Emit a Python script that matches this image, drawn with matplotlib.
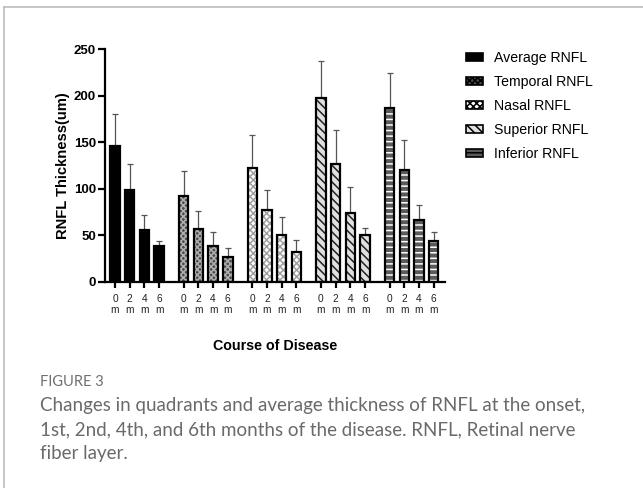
import matplotlib
matplotlib.use("Agg")
import matplotlib.pyplot as plt
from matplotlib.patches import Patch
from matplotlib.lines import Line2D
import numpy as np

plt.rcParams['font.family'] = ['Liberation Sans', 'DejaVu Sans']
plt.rcParams['hatch.linewidth'] = 1.1

# data (mean and upper SD per month)
months = ['0\nm', '2\nm', '4\nm', '6\nm']
groups = ['Average RNFL', 'Temporal RNFL', 'Nasal RNFL', 'Superior RNFL', 'Inferior RNFL']

average_mean = [146, 99, 56, 38]
average_sd = [34, 27, 16, 6]
temporal_mean = [92, 57, 38, 26]
temporal_sd = [27, 19, 15, 10]
nasal_mean = [122, 77, 50, 32]
nasal_sd = [36, 21, 19, 13]
superior_mean = [197, 126, 74, 50]
superior_sd = [40, 37, 28, 8]
inferior_mean = [187, 120, 66, 44]
inferior_sd = [37, 32, 16, 9]

means = [average_mean, temporal_mean, nasal_mean, superior_mean, inferior_mean]
sds = [average_sd, temporal_sd, nasal_sd, superior_sd, inferior_sd]

# face colour, hatch colour, hatch
styles = [
    ('black', 'black', None),
    ('#4a4a4a', '#b0b0b0', 'xxxxxx'),
    ('white', '#a0a0a0', 'xxxxx'),
    ('#e0e0e0', '#222222', '\\\\\\\\'),
    ('#5a5a5a', 'white', '---'),
]

fig = plt.figure(figsize=(6.43, 4.88), dpi=100)
ax = fig.add_axes([105/643, 1 - 281.7/488, 340/643, 232.7/488])

group_step = 4.67
bar_w = 0.65
xticks = []
xlabels = []
for g in range(len(groups)):
    x = np.arange(4) + g * group_step
    face, hcol, hatch = styles[g]
    ax.bar(x, means[g], bar_w, color=face, edgecolor=hcol, linewidth=0,
           hatch=hatch, zorder=2)
    ax.bar(x, means[g], bar_w, fill=False, edgecolor='black', linewidth=1.6,
           zorder=3)
    ax.errorbar(x, means[g], yerr=[np.zeros(4), sds[g]], fmt='none',
                ecolor='#555555', elinewidth=0.9, capsize=2.2, capthick=0.9,
                zorder=1)
    xticks.extend(x)
    xlabels.extend(months)

ax.set_xlim(-0.68, 22.45)
ax.set_ylim(0, 250)
ax.set_yticks([0, 50, 100, 150, 200, 250])
ax.set_xticks(xticks)
ax.set_xticklabels(xlabels, fontsize=7.3, color='#222222', linespacing=1.15)

for s in ['top', 'right']:
    ax.spines[s].set_visible(False)
for s in ['left', 'bottom']:
    ax.spines[s].set_linewidth(1.6)
ax.tick_params(axis='y', length=5, width=1.6, pad=1.5, labelsize=9.5)
ax.tick_params(axis='x', length=4, width=1.6, pad=5)
for lab in ax.get_yticklabels():
    lab.set_fontweight('bold')

ax.set_ylabel('RNFL Thickness(um)', fontsize=10.6, fontweight='bold', va='center')
ax.yaxis.set_label_coords(-0.1235, 0.5)
ax.set_xlabel('Course of Disease', fontsize=10.3, fontweight='bold', va='center')
ax.xaxis.set_label_coords(0.5, -0.276)

handles = []
for g in range(len(groups)):
    face, hcol, hatch = styles[g]
    handles.append(Patch(facecolor=face, edgecolor='black', hatch=hatch,
                         linewidth=1.2, label=groups[g]))
fig.legend(handles=handles, loc='upper left',
           bbox_to_anchor=(465.7/643, 1 - 51/488), frameon=False,
           fontsize=10.2, handlelength=1.2, handleheight=0.5,
           handletextpad=0.8, labelspacing=0.7, borderpad=0,
           borderaxespad=0)

# card border
fig.add_artist(Line2D([4/643, 1], [1 - 7/488, 1 - 7/488], color='#bdbdbd', lw=1.2))
fig.add_artist(Line2D([4/643, 4/643], [0, 1 - 7/488], color='#bdbdbd', lw=1.2))

fig.text(40/643, 1 - 382/488, 'FIGURE 3', family='Lato', fontsize=10.5,
         color='#6f6f6f', va='center', ha='left')
caption = ['Changes in quadrants and average thickness of RNFL at the onset,',
           '1st, 2nd, 4th, and 6th months of the disease. RNFL, Retinal nerve',
           'fiber layer.']
for i, line in enumerate(caption):
    fig.text(40/643, 1 - (405.7 + i * 23.7)/488, line, family='Lato',
             fontsize=13.5, color='#6a6a6a', va='center', ha='left')

fig.savefig('out.png', dpi=100)
